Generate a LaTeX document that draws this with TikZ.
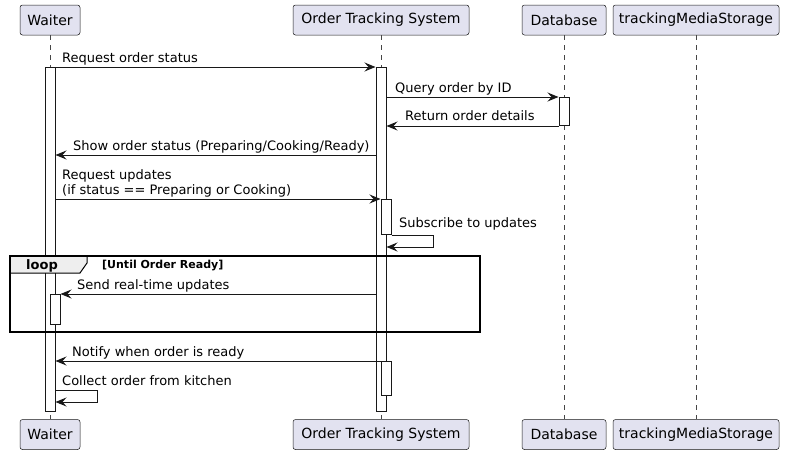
\documentclass[tikz,border=0pt]{standalone}
\usepackage{fontspec}
\setmainfont{DejaVu Sans}
\usetikzlibrary{arrows.meta,positioning}
\definecolor{partfill}{HTML}{E2E2F0}
\definecolor{ink}{HTML}{181818}
\definecolor{tabfill}{HTML}{EEEEEE}

\begin{document}
\begin{tikzpicture}[x=1pt, y=-1pt,
    part/.style = {draw=ink, fill=partfill, line width=0.5pt, rounded corners=2.5pt, minimum height=30pt, inner sep=0pt, font=\fontsize{14}{16}\selectfont},
    life/.style = {draw=ink!80, line width=0.5pt, dash pattern=on 5pt off 5pt},
    act/.style = {draw=ink, fill=white, line width=1pt, minimum width=10pt, inner sep=0pt, anchor=north},
    msg/.style = {draw=ink, line width=1pt, -{Stealth[length=11pt, width=9pt, inset=4pt]}},
    lbl/.style = {anchor=base west, inner sep=0pt, font=\fontsize{13}{15}\selectfont}]
    \useasboundingbox (0,0) rectangle (786,455);
    % participants
    \node[part, minimum width=60pt] (w) at (50,20) {Waiter};
    \node[part, minimum width=176pt] (ots) at (381,20) {Order Tracking System};
    \node[part, minimum width=84pt] (db) at (564,20) {Database};
    \node[part, minimum width=166pt] (tms) at (696,20) {trackingMediaStorage};
    \node[part, minimum width=60pt] (wb) at (50,434.5) {Waiter};
    \node[part, minimum width=176pt] (otsb) at (381,434.5) {Order Tracking System};
    \node[part, minimum width=84pt] (dbb) at (564,434.5) {Database};
    \node[part, minimum width=166pt] (tmsb) at (696,434.5) {trackingMediaStorage};
    \draw[life] (w) -- (wb);
    \draw[life] (ots) -- (otsb);
    \draw[life] (db) -- (dbb);
    \draw[life] (tms) -- (tmsb);
    % activations
    \node[act, minimum height=344pt] (wa1) at (50,67) {};
    \node[act, minimum height=344pt] (oa1) at (381,67) {};
    \node[act, minimum height=28pt] (da1) at (564,97) {};
    \node[act, minimum height=35pt] (oa2) at (386,199) {};
    % messages
    \draw[msg] (wa1.north east) -- (oa1.north west);
    \node[lbl] (t1) at (62,62) {Request order status};
    \draw[msg] (oa1.north east |- da1.north) -- (da1.north west);
    \node[lbl] (t2) at (395,92) {Query order by ID};
    \draw[msg] (da1.south west) -- (oa1.east |- da1.south);
    \node[lbl] (t3) at (405,120) {Return order details};
    \coordinate (y4) at (0,155);
    \draw[msg] (oa1.west |- y4) -- (wa1.east |- y4);
    \node[lbl] (t4) at (73,150) {Show order status (Preparing/Cooking/Ready)};
    \draw[msg] (wa1.east |- oa2.north) -- (oa2.north west);
    \node[lbl, align=left] (t5) at (62,194) {Request updates\\(if status == Preparing or Cooking)};
    \coordinate (s1) at (433,247);
    \draw[msg] (oa2.south east) -- (s1 |- oa2.south) -- (s1) -- (oa1.east |- s1);
    \node[lbl] (t6) at (399,227) {Subscribe to updates};
    % loop
    \draw[fill=tabfill, line width=1pt] (10,256) -- (87,256) -- (87,263) -- (80,273) -- (10,273) -- cycle;
    \draw[line width=1.5pt] (10,256) rectangle (480,332);
    \node[anchor=base west, inner sep=0pt, font=\bfseries\fontsize{13}{15}\selectfont] (lp) at (26,269) {loop};
    \node[anchor=base west, inner sep=0pt, font=\bfseries\fontsize{11}{13}\selectfont] (lc) at (102,268) {[Until Order Ready]};
    \node[act, minimum height=30pt] (wa2) at (55,294) {};
    \draw[msg] (oa1.west |- wa2.north) -- (wa2.north east);
    \node[lbl] (t7) at (77,289) {Send real-time updates};
    % after loop
    \node[act, minimum height=34pt] (oa3) at (386,361) {};
    \draw[msg] (oa3.north west) -- (wa1.east |- oa3.north);
    \node[lbl] (t8) at (72,356) {Notify when order is ready};
    \coordinate (s2) at (97,390);
    \coordinate (s3) at (97,402);
    \draw[msg] (wa1.east |- s2) -- (s2) -- (s3) -- (wa1.east |- s3);
    \node[lbl] (t9) at (62,385) {Collect order from kitchen};
\end{tikzpicture}
\end{document}
